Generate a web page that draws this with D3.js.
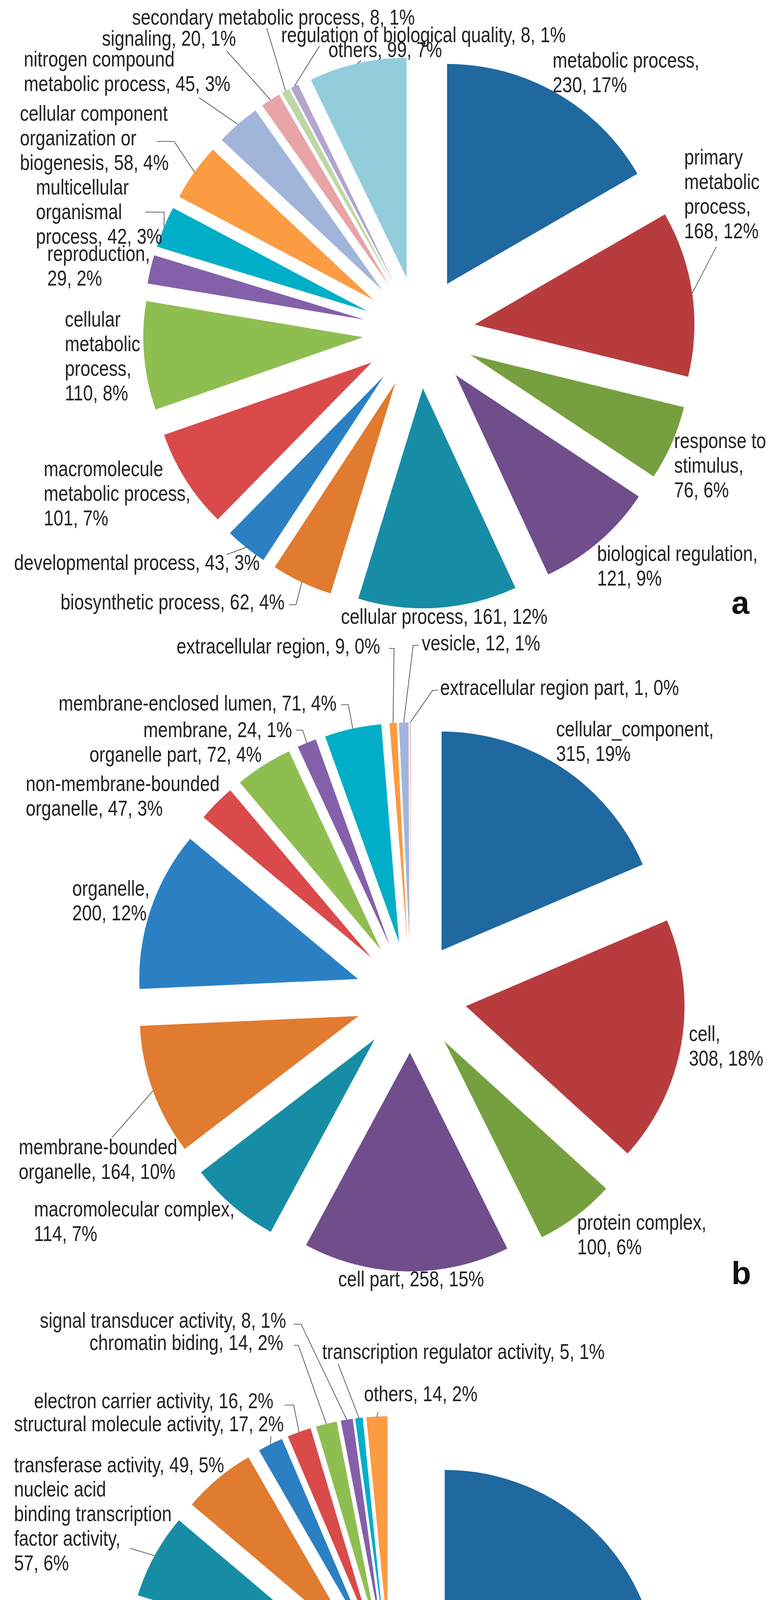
<!DOCTYPE html>
<html>
<head>
<meta charset="utf-8">
<script src="https://cdn.jsdelivr.net/npm/d3@7"></script>
<style>
  body { margin: 0; background: #fff; }
  svg { display: block; }
</style>
</head>
<body>
<svg id="chart" width="1987" height="4999"></svg>
<script>
(function (d3) {

  // ---- data ----
  var bpCategories = ['metabolic process', 'primary metabolic process', 'response to stimulus',
    'biological regulation', 'cellular process', 'biosynthetic process', 'developmental process',
    'macromolecule metabolic process', 'cellular metabolic process', 'reproduction',
    'multicellular organismal process', 'cellular component organization or biogenesis',
    'nitrogen compound metabolic process', 'signaling', 'secondary metabolic process',
    'regulation of biological quality', 'others'];
  var bpValues = [230, 168, 76, 121, 161, 62, 43, 101, 110, 29, 42, 58, 45, 20, 8, 8, 99];
  var bpPercents = [17, 12, 6, 9, 12, 4, 3, 7, 8, 2, 3, 4, 3, 1, 1, 1, 7];

  var ccCategories = ['cellular_component', 'cell', 'protein complex', 'cell part',
    'macromolecular complex', 'membrane-bounded organelle', 'organelle',
    'non-membrane-bounded organelle', 'organelle part', 'membrane', 'membrane-enclosed lumen',
    'extracellular region', 'vesicle', 'extracellular region part'];
  var ccValues = [315, 308, 100, 258, 114, 164, 200, 47, 72, 24, 71, 9, 12, 1];
  var ccPercents = [19, 18, 6, 15, 7, 10, 12, 3, 4, 1, 4, 0, 1, 0];

  var mfCategories = ['binding', 'catalytic activity', 'DNA binding transcription factor activity',
    'transporter activity', 'nucleic acid binding transcription factor activity',
    'transferase activity', 'structural molecule activity', 'electron carrier activity',
    'chromatin biding', 'signal transducer activity', 'transcription regulator activity', 'others'];
  var mfValues = [441, 174, 57, 38, 57, 49, 17, 16, 14, 8, 5, 14];
  var mfPercents = [49, 20, 6, 4, 6, 5, 2, 2, 2, 1, 1, 2];

  var palette = ['#1f68a0', '#b83c3e', '#76a03f', '#704d8b', '#178da5', '#e07b2f',
    '#2b80c3', '#da4a4a', '#8fbe50', '#8460ab', '#00aec8', '#fb9b42',
    '#a1b5da', '#e8a4a6', '#bed8a4', '#b4a5cc', '#93cddc'];

  // ---- layout ----
  var EXPLODE = 0.255;
  var LINE_H = 63;
  var FONT_SIZE = 55;
  var SQUEEZE = 0.82;   // no narrow face installed, so condense the regular one

  var panels = [
    {
      letter: 'a', letterPos: [1873, 1571],
      cx: 1073, cy: 851, r: 563,
      cats: bpCategories, vals: bpValues, pcts: bpPercents,
      wrap: [[2, 2], [1, 1, 1, 2], [2, 1, 2], [2, 2], null, null, null, [1, 2, 2], [1, 1, 1, 2],
        [1, 2], [1, 1, 3], [2, 2, 3], [2, 4], null, null, null, null],
      pos: [[1415, 173], [1752, 421], [1726, 1147], [1529, 1436], [873, 1597], [155, 1560],
        [36, 1459], [112, 1219], [166, 836], [121, 668], [92, 498], [51, 309], [61, 170],
        [261, 117], [338, 63], [720, 108], [841, 146]],
      leaders: [
        { i: 14, from: [683, 72] },
        { i: 15, from: [818, 118] },
        { i: 13, from: [580, 130] },
        { i: 16, from: [925, 155] },
        { i: 12, from: [510, 250] },
        { i: 11, from: [402, 362], elbow: [446, 362] },
        { i: 10, from: [372, 543], elbow: [420, 543] },
        { i: 6, from: [580, 1420] },
        { i: 5, from: [740, 1548], elbow: [758, 1548] },
        { i: 1, from: [1834, 632] }
      ]
    },
    {
      letter: 'b', letterPos: [1873, 3287],
      cx: 1052, cy: 2552, r: 560,
      cats: ccCategories, vals: ccValues, pcts: ccPercents,
      wrap: [[1, 2], [1, 2], [2, 2], null, [2, 2], [1, 3], [1, 2], [1, 3], null, null, null,
        null, null, null],
      pos: [[1424, 1885], [1764, 2665], [1478, 3148], [866, 3293], [87, 3114], [48, 2955],
        [185, 2293], [66, 2025], [229, 1950], [367, 1887], [150, 1819], [452, 1673],
        [1080, 1665], [1127, 1779]],
      leaders: [
        { i: 11, from: [996, 1660], elbow: [1009, 1660] },
        { i: 12, from: [1072, 1652], elbow: [1058, 1652] },
        { i: 13, from: [1121, 1767], elbow: [1108, 1767] },
        { i: 10, from: [873, 1804], elbow: [892, 1804] },
        { i: 9, from: [758, 1869], elbow: [775, 1869] },
        { i: 5, from: [287, 2912] }
      ]
    },
    {
      letter: 'c', letterPos: [1853, 4944],
      cx: 999, cy: 4313, r: 548,
      cats: mfCategories, vals: mfValues, pcts: mfPercents, tight: ['transporter activity'],
      wrap: [[1, 2], null, [2, 1, 2, 2], [1, 1, 1], [2, 2, 2, 2], null, null, null, null,
        null, null, null],
      pos: [[1701, 4299], [41, 4898], [41, 4348], [112, 4145], [36, 3831], [36, 3769],
        [36, 3664], [87, 3605], [229, 3456], [102, 3399], [825, 3479], [932, 3587]],
      leaders: [
        { i: 9, from: [752, 3390], elbow: [771, 3390] },
        { i: 8, from: [752, 3444], elbow: [764, 3444] },
        { i: 10, from: [866, 3492] },
        { i: 11, from: [968, 3615] },
        { i: 7, from: [729, 3597], elbow: [752, 3597] },
        { i: 6, from: [694, 3677] },
        { i: 4, from: [334, 3964] }
      ]
    }
  ];

  var FONT = "'Liberation Sans', Arial, sans-serif";

  function labelLines(cat, val, pct, wrap, tight) {
    var text = cat + ', ' + val + (tight ? ',' : ', ') + pct + '%';
    if (!wrap) return [text];
    var words = text.split(' '), lines = [], k = 0;
    wrap.forEach(function (n) {
      lines.push(words.slice(k, k + n).join(' '));
      k += n;
    });
    return lines;
  }

  var svg = d3.select('#chart');

  var pie = d3.pie().sort(null).value(function (d) { return d; })
    .startAngle(0).endAngle(2 * Math.PI);

  panels.forEach(function (p) {
    var arcs = pie(p.vals);
    var arc = d3.arc().innerRadius(0).outerRadius(p.r);
    var e = EXPLODE * p.r;

    // position of each exploded slice's apex
    function apex(a) {
      var m = (a.startAngle + a.endAngle) / 2;
      return [p.cx + e * Math.sin(m), p.cy - e * Math.cos(m)];
    }

    var g = svg.append('g');

    g.selectAll('path.slice')
      .data(arcs)
      .enter().append('path')
      .attr('class', 'slice')
      .attr('d', arc)
      .attr('transform', function (a) { return 'translate(' + apex(a) + ')'; })
      .attr('fill', function (a, i) { return palette[i]; });

    // leader lines to the outer edge of the slice
    g.selectAll('polyline.leader')
      .data(p.leaders)
      .enter().append('polyline')
      .attr('class', 'leader')
      .attr('fill', 'none')
      .attr('stroke', '#3a3a3a')
      .attr('stroke-width', 1.6)
      .attr('points', function (l) {
        var a = arcs[l.i];
        var m = (a.startAngle + a.endAngle) / 2;
        var t = apex(a);
        var end = [t[0] + p.r * Math.sin(m), t[1] - p.r * Math.cos(m)];
        var pts = [l.from];
        if (l.elbow) pts.push(l.elbow);
        pts.push(end);
        return pts.map(function (q) { return q.join(','); }).join(' ');
      });

    // data labels
    var labels = g.selectAll('text.lbl')
      .data(arcs)
      .enter().append('text')
      .attr('class', 'lbl')
      .attr('font-family', FONT)
      .attr('font-size', FONT_SIZE)
      .attr('fill', '#222')
      .attr('transform', function (a, i) {
        return 'translate(' + p.pos[i] + ') scale(' + SQUEEZE + ',1)';
      });

    labels.each(function (a, i) {
      var tight = p.tight && p.tight.indexOf(p.cats[i]) >= 0;
      var lines = labelLines(p.cats[i], p.vals[i], p.pcts[i], p.wrap[i], tight);
      d3.select(this).selectAll('tspan')
        .data(lines)
        .enter().append('tspan')
        .attr('x', 0)
        .attr('dy', function (s, j) { return j === 0 ? 0 : LINE_H; })
        .text(function (s) { return s; });
    });

    svg.append('text')
      .attr('x', p.letterPos[0])
      .attr('y', p.letterPos[1])
      .attr('font-family', "'Liberation Sans', Arial, sans-serif")
      .attr('font-weight', 'bold')
      .attr('font-size', 82)
      .attr('fill', '#111')
      .text(p.letter);
  });

})(d3);
</script>
</body>
</html>
